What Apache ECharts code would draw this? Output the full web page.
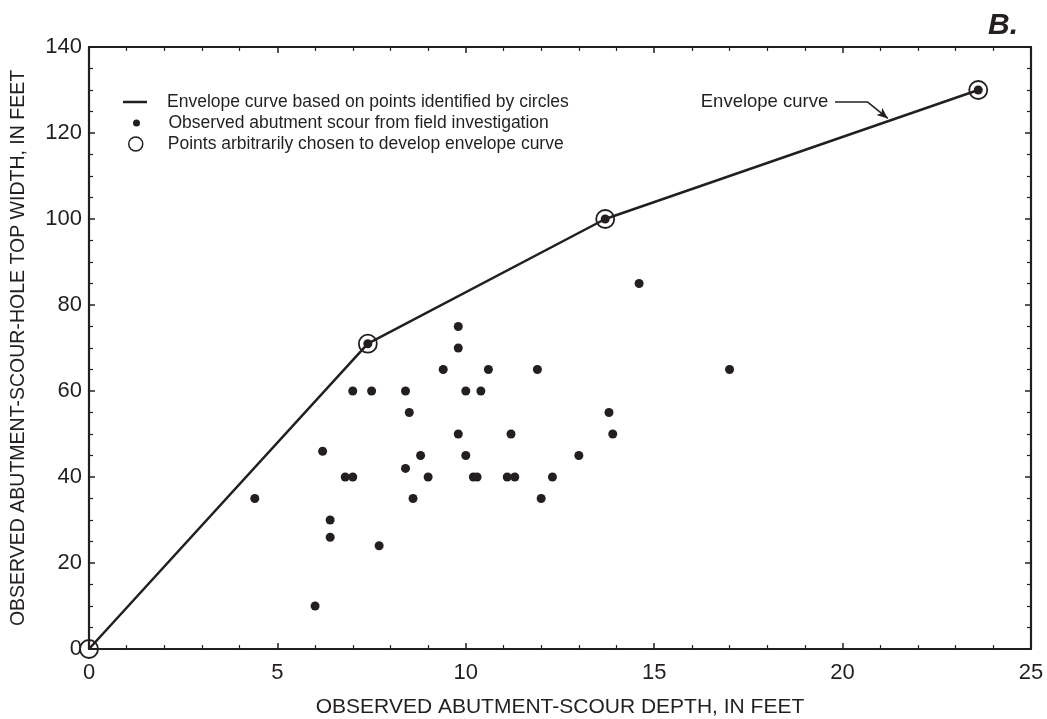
<!DOCTYPE html>
<html>
<head>
<meta charset="utf-8">
<script src="https://cdn.jsdelivr.net/npm/echarts@6/dist/echarts.min.js"></script>
<style>
	html, body { margin: 0; padding: 0; background: #fff; }
	#chart { width: 1047px; height: 719px; }
</style>
</head>
<body>
<div id="chart"></div>
<script>
// observed abutment scour (depth ft, top width ft)
var obsX = [4.4, 6.0, 6.2, 6.4, 6.4, 6.8, 7.0, 7.0, 7.4, 7.5, 7.7, 8.4, 8.4, 8.5, 8.6, 8.8, 9.0, 9.4, 9.8, 9.8,
	9.8, 10.0, 10.0, 10.2, 10.3, 10.4, 10.6, 11.1, 11.2, 11.3, 11.9, 12.0, 12.3, 13.0, 13.7, 13.8, 13.9, 14.6, 17.0, 23.6];
var obsY = [35, 10, 46, 30, 26, 40, 40, 60, 71, 60, 24, 60, 42, 55, 35, 45, 40, 65, 75, 70,
	50, 60, 45, 40, 40, 60, 65, 40, 50, 40, 65, 35, 40, 45, 100, 55, 50, 85, 65, 130];

// envelope curve points (circled)
var envX = [0, 7.4, 13.7, 23.6];
var envY = [0, 71, 100, 130];

var xTicks = [0, 5, 10, 15, 20, 25];
var yTicks = [0, 20, 40, 60, 80, 100, 120, 140];

var ink = '#231f20';
var font = 'Liberation Sans, Arial, sans-serif';

function pairs(xs, ys) {
	var out = [];
	for (var i = 0; i < xs.length; i++) out.push([xs[i], ys[i]]);
	return out;
}

var chart = echarts.init(document.getElementById('chart'));

var axisBase = {
	axisLine: { show: true, onZero: false, lineStyle: { color: ink, width: 2.2 } },
	axisTick: { show: true, inside: true, length: 6, lineStyle: { color: ink, width: 1.5 } },
	minorTick: { show: true, splitNumber: 5, length: 4, lineStyle: { color: ink, width: 1.2 } },
	splitLine: { show: false }
};
var yMinor = { show: true, splitNumber: 4, length: 4, lineStyle: { color: ink, width: 1.2 } };

var legendCommon = {
	orient: 'vertical',
	padding: 0,
	itemWidth: 24,
	selectedMode: false,
	textStyle: { color: ink, fontFamily: font, fontSize: 17.5, lineHeight: 18, padding: [0, 0, 0, 15] }
};

var option = {
	animation: false,
	backgroundColor: '#fff',
	title: {
		text: 'B.',
		right: 24,
		top: 6,
		textStyle: { color: ink, fontFamily: font, fontSize: 30, fontWeight: 'bold', fontStyle: 'italic' }
	},
	grid: { left: 89, right: 16, top: 47, bottom: 70, containLabel: false, outerBoundsMode: 'none' },
	xAxis: [
		Object.assign({}, axisBase, {
			type: 'value', min: 0, max: 25, interval: 5, position: 'bottom',
			name: 'OBSERVED ABUTMENT-SCOUR DEPTH, IN FEET',
			nameLocation: 'middle', nameGap: 48,
			nameTextStyle: { color: ink, fontFamily: font, fontSize: 21 },
			axisLabel: {
				color: ink, fontFamily: font, fontSize: 22, margin: 13,
				formatter: function(v) { return xTicks.indexOf(v) >= 0 ? String(v) : ''; }
			}
		}),
		Object.assign({}, axisBase, {
			type: 'value', min: 0, max: 25, interval: 5, position: 'top',
			axisLabel: { show: false }
		})
	],
	yAxis: [
		Object.assign({}, axisBase, {
			type: 'value', min: 0, max: 140, interval: 20, position: 'left',
			minorTick: yMinor,
			name: 'OBSERVED ABUTMENT-SCOUR-HOLE TOP WIDTH, IN FEET',
			nameLocation: 'middle', nameGap: 60,
			nameTextStyle: { color: ink, fontFamily: font, fontSize: 19.5 },
			axisLabel: {
				color: ink, fontFamily: font, fontSize: 22, margin: 7,
				formatter: function(v) { return yTicks.indexOf(v) >= 0 ? String(v) : ''; }
			}
		}),
		Object.assign({}, axisBase, {
			type: 'value', min: 0, max: 140, interval: 20, position: 'right',
			minorTick: yMinor,
			axisLabel: { show: false }
		})
	],
	series: [
		{
			name: 'Envelope curve based on points identified by circles',
			type: 'line',
			data: pairs(envX, envY),
			symbol: 'none',
			lineStyle: { color: ink, width: 2.5 },
			itemStyle: { color: ink },
			z: 2,
			markPoint: {
				symbol: 'circle',
				symbolSize: 0,
				silent: true,
				label: {
					show: true, position: 'left', distance: 0,
					color: ink, fontFamily: font, fontSize: 18.5
				},
				data: [{ coord: [19.62, 127.3], value: 'Envelope curve', label: { formatter: 'Envelope curve' } }]
			},
			markLine: {
				silent: true,
				animation: false,
				label: { show: false },
				lineStyle: { color: ink, width: 1.5, type: 'solid' },
				data: [
					[{ coord: [19.8, 127.3], symbol: 'none' }, { coord: [20.65, 127.3], symbol: 'none' }],
					[{ coord: [20.65, 127.3], symbol: 'none' }, { coord: [21.2, 123.4], symbol: 'arrow', symbolSize: [7, 11] }]
				]
			}
		},
		{
			name: 'Observed abutment scour from field investigation',
			type: 'scatter',
			data: pairs(obsX, obsY),
			symbol: 'circle',
			symbolSize: 9,
			itemStyle: { color: ink, opacity: 1 },
			z: 3
		},
		{
			name: 'Points arbitrarily chosen to develop envelope curve',
			type: 'scatter',
			data: pairs(envX, envY),
			symbol: 'circle',
			symbolSize: 18,
			itemStyle: { color: 'rgba(0,0,0,0)', borderColor: ink, borderWidth: 1.8, opacity: 1 },
			z: 4
		}
	]
};

option.legend = [
	Object.assign({}, legendCommon, {
		left: 123, top: 93, itemHeight: 2.5,
		itemStyle: { color: ink },
		data: [{ name: 'Envelope curve based on points identified by circles', icon: 'rect' }]
	}),
	Object.assign({}, legendCommon, {
		left: 133, top: 114, itemHeight: 7,
		itemStyle: { color: ink, opacity: 1 },
		data: ['Observed abutment scour from field investigation']
	}),
	Object.assign({}, legendCommon, {
		left: 128, top: 135, itemHeight: 14,
		itemStyle: { color: '#fff', borderColor: ink, borderWidth: 1.5 },
		data: ['Points arbitrarily chosen to develop envelope curve']
	})
];

chart.setOption(option, true);
</script>
</body>
</html>
